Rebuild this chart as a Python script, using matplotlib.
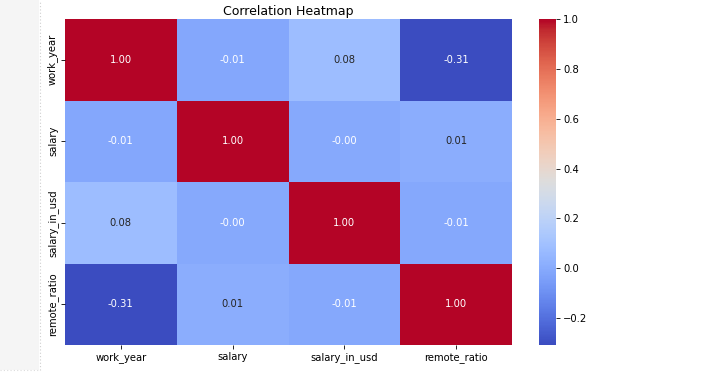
import matplotlib
matplotlib.use("Agg")
import matplotlib.pyplot as plt
import matplotlib.patches as mpatches
import seaborn as sns
import numpy as np
import pandas as pd

labels = ["work_year", "salary", "salary_in_usd", "remote_ratio"]
row_work_year = [1.00, -0.012, 0.08, -0.308]
row_salary = [-0.012, 1.00, -0.004, 0.012]
row_salary_in_usd = [0.08, -0.004, 1.00, -0.008]
row_remote_ratio = [-0.308, 0.012, -0.008, 1.00]

corr = pd.DataFrame([row_work_year, row_salary, row_salary_in_usd, row_remote_ratio],
                    index=labels, columns=labels)

fig = plt.figure(figsize=(7.27, 3.76), dpi=100)
# notebook side strip
yb = 1 - 369.5/376
fig.patches.append(mpatches.Rectangle((0, yb), 39/727, 1 - yb, transform=fig.transFigure,
                                      facecolor="#f5f5f5", edgecolor="none", zorder=0))
fig.lines.append(plt.Line2D([39.5/727, 39.5/727], [yb, 1], transform=fig.transFigure,
                            color="#cfcfcf", lw=0.8, ls=(0, (1, 2))))
fig.lines.append(plt.Line2D([0, 39.5/727], [yb, yb], transform=fig.transFigure,
                            color="#dcdcdc", lw=0.8, ls=(0, (1, 2))))

ax = fig.add_axes([65/727, 1-345/376, (512-65)/727, (345-19)/376])
cax = fig.add_axes([539/727, 1-345/376, (556-539)/727, (345-19)/376])
sns.heatmap(corr, annot=True, fmt=".2f", cmap="coolwarm", ax=ax, cbar_ax=cax,
            annot_kws={"size": 7.2})
ax.set_title("Correlation Heatmap", fontsize=9, pad=3)
ax.tick_params(labelsize=7.2, length=3, width=0.6, pad=2)
plt.setp(ax.get_yticklabels(), rotation=90, va="center")
cax.tick_params(labelsize=7.2, length=3, width=0.6, pad=2)
for s in cax.spines.values():
    s.set_visible(False)
fig.savefig("out.png", dpi=100)
